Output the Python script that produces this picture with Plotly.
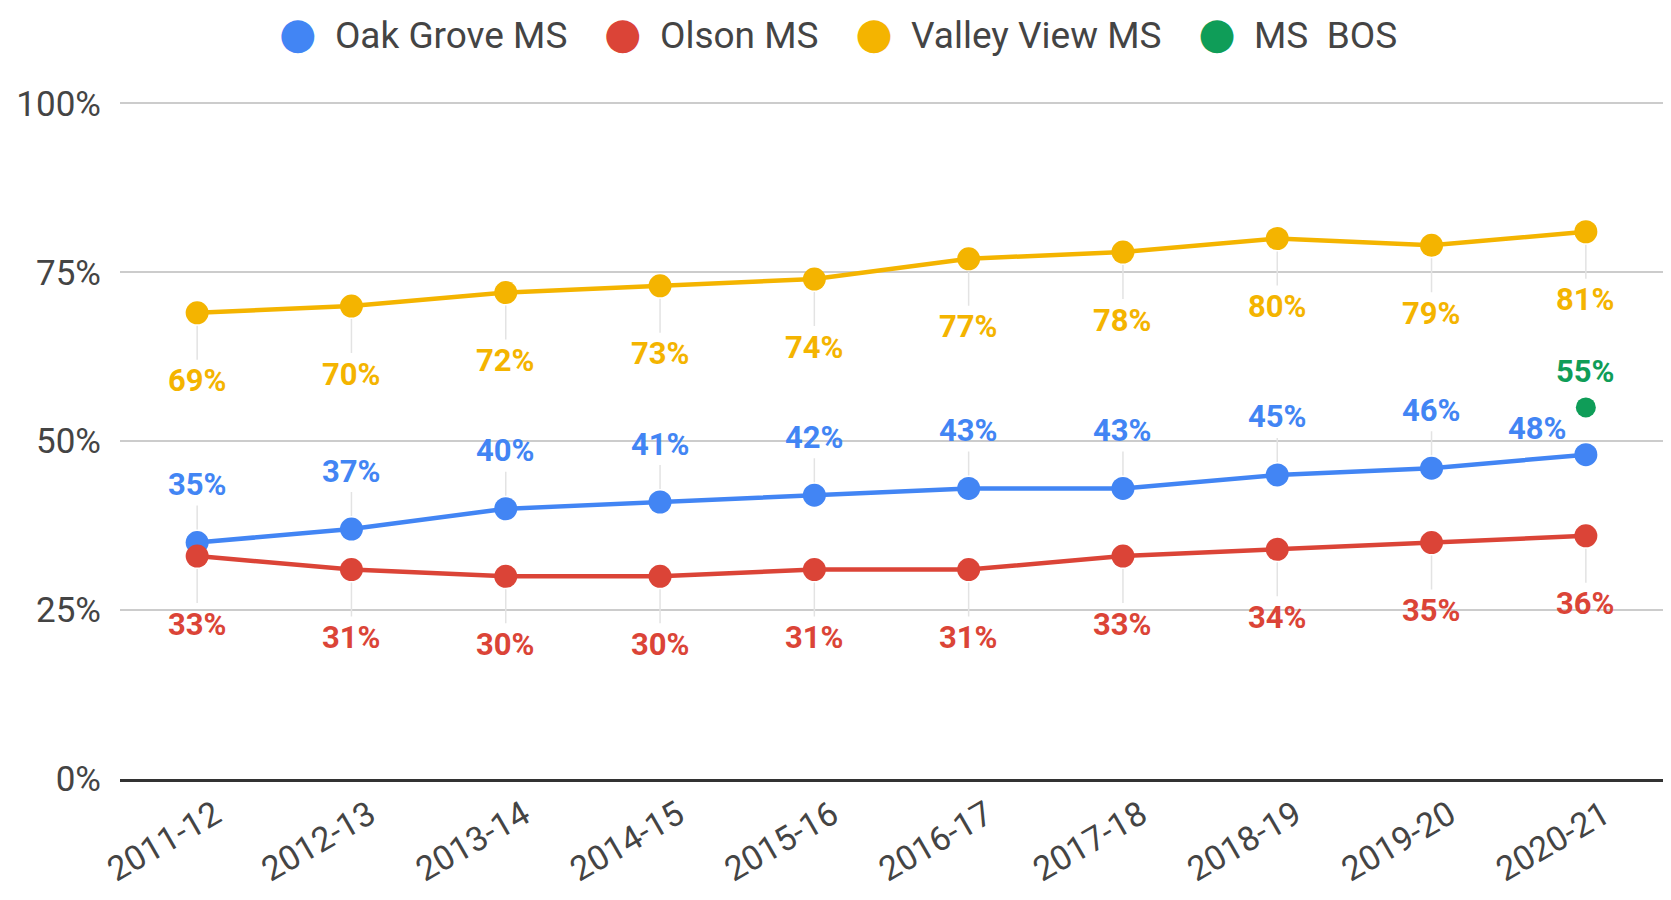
import plotly.graph_objects as go

years = ["2011-12", "2012-13", "2013-14", "2014-15", "2015-16",
         "2016-17", "2017-18", "2018-19", "2019-20", "2020-21"]
oak_grove = [35, 37, 40, 41, 42, 43, 43, 45, 46, 48]
olson = [33, 31, 30, 30, 31, 31, 33, 34, 35, 36]
valley_view = [69, 70, 72, 73, 74, 77, 78, 80, 79, 81]
bos_years = ["2020-21"]
bos = [55]
y_ticks = [0, 25, 50, 75, 100]
legend_names = ["Oak Grove MS", "Olson MS", "Valley View MS", "MS  BOS"]

BLUE, RED, YELLOW, GREEN = "#4285F4", "#DB4437", "#F4B400", "#0F9D58"
legend_colors = [BLUE, RED, YELLOW, GREEN]
FONT = "Roboto"

fig = go.Figure()

# main series (drawn order: yellow, blue, red, green)
series = [
    ("Valley View MS", years, valley_view, YELLOW, 23, 68),
    ("Oak Grove MS", years, oak_grove, BLUE, 23, -58),
    ("Olson MS", years, olson, RED, 23, 68),
    ("MS  BOS", bos_years, bos, GREEN, 20, -36),
]
for name, xs, ys, col, ms, _ in series:
    fig.add_trace(go.Scatter(
        x=xs, y=ys, name=name, showlegend=False,
        mode="lines+markers" if len(xs) > 1 else "markers",
        line=dict(color=col, width=4.5),
        marker=dict(color=col, size=ms),
        hoverinfo="x+y+name",
    ))

# data labels with faint leader lines
overrides = {("Oak Grove MS", "2020-21"): (-48, -26, "rgba(0,0,0,0)")}
annotations = []
for name, xs, ys, col, ms, off in series:
    for x, y in zip(xs, ys):
        ax, ay, acol = 0, off, "#e3e3e3"
        if (name, x) in overrides:
            ax, ay, acol = overrides[(name, x)]
        if name == "MS  BOS":
            acol = "rgba(0,0,0,0)"
        annotations.append(dict(
            x=x, y=y, xref="x", yref="y", text=f"<b>{y}%</b>",
            showarrow=True, arrowhead=0, arrowwidth=1.5, arrowcolor=acol,
            ax=ax, ay=ay, standoff=13, borderpad=2,
            font=dict(family=FONT, size=31, color=col),
        ))

# legend row (large circle symbols + names)
gap_after = "\u00a0" * 4
parts = []
for nm, col in zip(legend_names, legend_colors):
    circle = (f"<span style='font-family:DejaVu Sans;font-size:43px;color:{col}'>"
              f"\u25cf</span>")
    parts.append(circle + "\u00a0\u00a0" + nm.replace(" ", "\u00a0"))
annotations.append(dict(
    x=0.4653, y=1.099, xref="paper", yref="paper", xanchor="center", yanchor="middle",
    text=gap_after.join(parts), showarrow=False, borderpad=0,
    font=dict(family=FONT, size=37, color="#444444"),
))

fig.update_layout(
    width=1655, height=884,
    margin=dict(l=112, r=0, t=92, b=113, autoexpand=False),
    paper_bgcolor="white", plot_bgcolor="white",
    font=dict(family=FONT, color="#444444"),
    showlegend=False,
    annotations=annotations,
    xaxis=dict(type="category", categoryorder="array", categoryarray=years,
               range=[-0.5, len(years) - 0.5], automargin=False,
               showgrid=False, showline=True, linecolor="#333333", linewidth=2.5,
               tickangle=-30, tickfont=dict(family=FONT, size=34, color="#444444"),
               ticks="", ticklabelstandoff=0, ticklabelshift=18),
    yaxis=dict(range=[0, 100.5], tickvals=y_ticks,
               ticktext=[f"{v}%" for v in y_ticks], automargin=False,
               showgrid=True, gridcolor="#cccccc", gridwidth=2,
               zeroline=False, showline=False,
               tickfont=dict(family=FONT, size=35, color="#444444"),
               ticklabelstandoff=18),
)

fig.write_html("out.html")
